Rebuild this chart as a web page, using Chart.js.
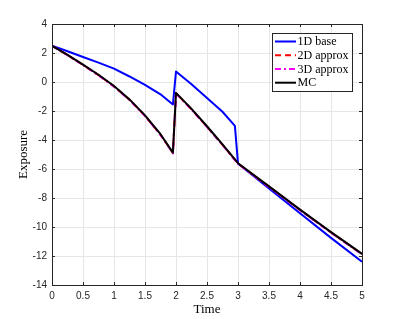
<!DOCTYPE html>
<html>
<head>
<meta charset="utf-8">
<script src="https://cdn.jsdelivr.net/npm/chart.js@4.4.1/dist/chart.umd.min.js"></script>
<style>
  html, body { margin: 0; padding: 0; background: #ffffff; }
  #wrap { width: 399px; height: 319px; }
</style>
</head>
<body>
<div id="wrap"><canvas id="c" width="399" height="319"></canvas></div>
<script>
// ---- data ----
const seriesLabels = ['1D base', '2D approx', '3D approx', 'MC'];

const timeBase = [0, 0.25, 0.5, 0.75, 1, 1.25, 1.5, 1.75, 1.95, 2, 2.25, 2.5, 2.75, 2.95, 3, 3.5, 4, 4.5, 5];
const exposureBase = [2.5, 2.12, 1.72, 1.34, 0.92, 0.38, -0.2, -0.85, -1.55, 0.72, -0.15, -1.1, -2.05, -3.03, -5.62, -7.35, -9.05, -10.75, -12.4];

const timeMC = [0, 0.25, 0.5, 0.75, 1, 1.25, 1.5, 1.75, 1.95, 2, 2.25, 2.5, 2.75, 3, 3.5, 4, 4.5, 5];
const exposureMC = [2.5, 1.87, 1.2, 0.5, -0.28, -1.2, -2.3, -3.6, -4.87, -0.75, -1.85, -3.05, -4.3, -5.6, -7.2, -8.8, -10.35, -11.85];
const exposure2D = [2.5, 1.86, 1.18, 0.48, -0.3, -1.22, -2.33, -3.63, -4.9, -0.77, -1.88, -3.08, -4.33, -5.62, -7.22, -8.82, -10.37, -11.87];
const exposure3D = [2.5, 1.85, 1.17, 0.46, -0.32, -1.24, -2.35, -3.65, -4.92, -0.79, -1.9, -3.1, -4.35, -5.64, -7.24, -8.84, -10.39, -11.89];

const xTicks = [0, 0.5, 1, 1.5, 2, 2.5, 3, 3.5, 4, 4.5, 5];
const yTicks = [-14, -12, -10, -8, -6, -4, -2, 0, 2, 4];

const colors = ['#0000ff', '#ff0000', '#ff00ff', '#000000'];
const dashes = [[], [6, 4], [6, 3, 2, 3], []];

function pts(xs, ys) { return xs.map((x, i) => ({ x: x, y: ys[i] })); }

const datasets = [
  { label: seriesLabels[0], data: pts(timeBase, exposureBase), borderColor: colors[0], borderWidth: 2, borderDash: dashes[0], order: 4 },
  { label: seriesLabels[1], data: pts(timeMC, exposure2D), borderColor: colors[1], borderWidth: 2, borderDash: dashes[1], order: 3 },
  { label: seriesLabels[2], data: pts(timeMC, exposure3D), borderColor: colors[2], borderWidth: 2, borderDash: dashes[2], order: 2 },
  { label: seriesLabels[3], data: pts(timeMC, exposureMC), borderColor: colors[3], borderWidth: 2, borderDash: dashes[3], order: 1 }
].map(d => Object.assign(d, { pointRadius: 0, fill: false, showLine: true, tension: 0, borderJoinStyle: 'round' }));

const axisColor = '#262626';

const framePlugin = {
  id: 'frame',
  afterDatasetsDraw(chart) {
    const ctx = chart.ctx;
    const a = chart.chartArea;
    const xs = chart.scales.x, ys = chart.scales.y;
    ctx.save();
    ctx.strokeStyle = axisColor;
    ctx.lineWidth = 1;
    ctx.strokeRect(Math.round(a.left) + 0.5, Math.round(a.top) + 0.5, Math.round(a.right - a.left), Math.round(a.bottom - a.top));
    const tl = 3;
    ctx.beginPath();
    xTicks.forEach(v => {
      const px = Math.round(xs.getPixelForValue(v)) + 0.5;
      ctx.moveTo(px, a.bottom); ctx.lineTo(px, a.bottom - tl);
      ctx.moveTo(px, a.top); ctx.lineTo(px, a.top + tl);
    });
    yTicks.forEach(v => {
      const py = Math.round(ys.getPixelForValue(v)) + 0.5;
      ctx.moveTo(a.left, py); ctx.lineTo(a.left + tl, py);
      ctx.moveTo(a.right, py); ctx.lineTo(a.right - tl, py);
    });
    ctx.stroke();

    // legend box
    const bx = 272.5, by = 33.5, bw = 80, bh = 58;
    ctx.fillStyle = '#ffffff';
    ctx.fillRect(bx, by, bw, bh);
    ctx.strokeStyle = '#262626';
    ctx.strokeRect(bx, by, bw, bh);
    ctx.font = '12px "Liberation Serif", "Times New Roman", serif';
    ctx.textBaseline = 'middle';
    ctx.textAlign = 'left';
    const rowY = [41.5, 55.3, 69.1, 82.7];
    chart.data.datasets.forEach((d, i) => {
      const y = rowY[i];
      ctx.beginPath();
      ctx.strokeStyle = d.borderColor;
      ctx.lineWidth = 2;
      ctx.setLineDash(d.borderDash || []);
      ctx.moveTo(275, y); ctx.lineTo(296, y);
      ctx.stroke();
      ctx.setLineDash([]);
      ctx.fillStyle = '#000000';
      ctx.fillText(d.label, 297.5, y + 0.5);
    });
    ctx.restore();
  }
};

new Chart(document.getElementById('c'), {
  type: 'scatter',
  data: { datasets: datasets },
  options: {
    responsive: false,
    animation: false,
    layout: { padding: { left: 0, top: 24, right: 37, bottom: 0 } },
    plugins: { legend: { display: false }, tooltip: { enabled: false } },
    scales: {
      x: {
        type: 'linear', min: 0, max: 5,
        afterFit(s) { s.height = 34; },
        afterBuildTicks(s) { s.ticks = xTicks.map(v => ({ value: v })); },
        ticks: { color: axisColor, font: { family: '"Liberation Sans", Arial, sans-serif', size: 10 }, padding: 5, maxRotation: 0, autoSkip: false, callback: v => String(v) },
        grid: { color: '#e6e6e6', drawTicks: false },
        border: { display: false },
        title: { display: true, text: 'Time', color: '#000000', font: { family: '"Liberation Serif", "Times New Roman", serif', size: 13 }, padding: { top: 0, bottom: 2 } }
      },
      y: {
        type: 'linear', min: -14, max: 4,
        afterFit(s) { s.width = 52; },
        afterBuildTicks(s) { s.ticks = yTicks.map(v => ({ value: v })); },
        ticks: { color: axisColor, font: { family: '"Liberation Sans", Arial, sans-serif', size: 10 }, padding: 5, autoSkip: false, callback: v => String(v) },
        grid: { color: '#e6e6e6', drawTicks: false },
        border: { display: false },
        title: { display: true, text: 'Exposure', color: '#000000', font: { family: '"Liberation Serif", "Times New Roman", serif', size: 13 }, padding: { top: 16, bottom: 0 } }
      }
    }
  },
  plugins: [framePlugin]
});
</script>
</body>
</html>
